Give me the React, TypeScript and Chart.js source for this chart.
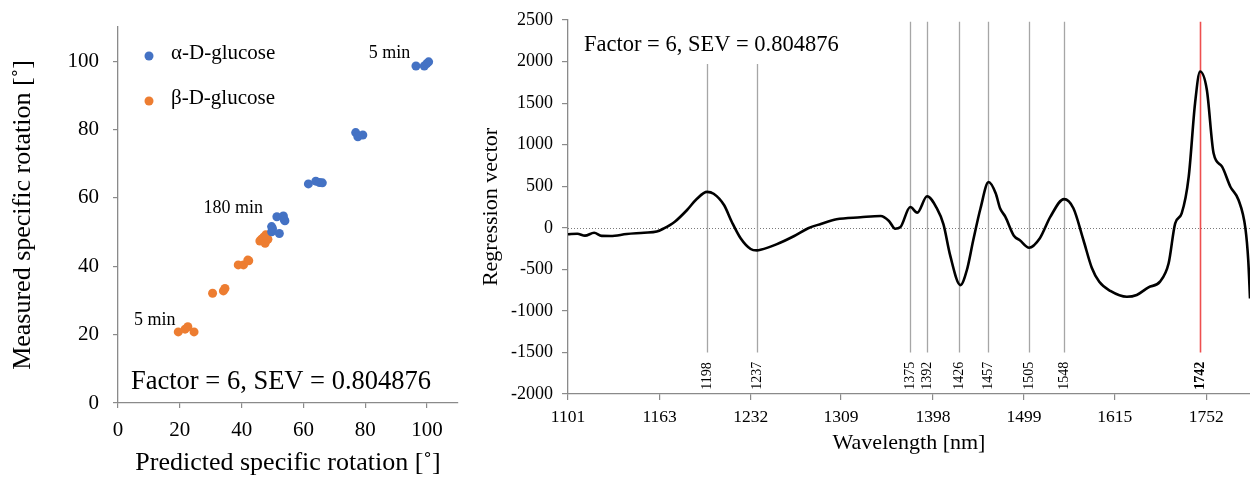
import React, { useEffect, useRef } from "react";
import { Chart, registerables } from "chart.js";

Chart.register(...registerables);

const FONT = "'Liberation Serif', 'Times New Roman', Times, serif";
const AXIS = "#8a8a8a";

// ---------- Left panel: predicted vs measured specific rotation ----------
const alphaPredicted = [96.4, 99.1, 99.9, 100.5, 76.9, 77.6, 79.2, 61.6, 64.0, 65.2, 66.1, 51.4, 53.5, 54.0, 49.7, 49.7, 52.2, 53.8, 50.0];
const alphaMeasured = [98.6, 98.6, 99.3, 99.8, 79.1, 77.9, 78.4, 64.1, 64.9, 64.5, 64.4, 54.5, 54.7, 53.3, 51.6, 50.1, 49.6, 53.6, 51.0];
const betaPredicted = [19.5, 21.7, 22.6, 24.6, 30.6, 34.1, 34.6, 38.9, 40.6, 42.0, 42.3, 45.9, 46.4, 47.0, 47.1, 47.6, 48.1, 48.5, 47.8];
const betaMeasured = [20.8, 21.6, 22.3, 20.8, 32.1, 32.8, 33.5, 40.4, 40.4, 41.8, 41.6, 47.4, 47.9, 47.7, 48.5, 46.7, 48.6, 47.9, 49.2];
const seriesLabels = ["α-D-glucose", "β-D-glucose"];
const seriesColors = ["#4472C4", "#ED7D31"];
const leftTicks = [0, 20, 40, 60, 80, 100];
const timeNotes = [
  { text: "5 min", x: 81.1, y: 100.8 },
  { text: "180 min", x: 27.7, y: 55.6 },
  { text: "5 min", x: 5.2, y: 22.7 },
];
const statText = "Factor = 6, SEV = 0.804876";

// ---------- Right panel: regression vector ----------
const wavelengthNm = [
  1101, 1107, 1112, 1118, 1123, 1129, 1140, 1152, 1161, 1166, 1174, 1183, 1190, 1198, 1203, 1211, 1217, 1224,
  1232, 1237, 1240, 1253, 1268, 1280, 1291, 1305, 1327, 1346, 1354, 1360, 1365, 1375, 1382, 1392, 1402, 1409,
  1416, 1427, 1434, 1441, 1449, 1458, 1466, 1471, 1477, 1487, 1494, 1505, 1518, 1531, 1548, 1560, 1573, 1584,
  1594, 1609, 1632, 1646, 1663, 1680, 1693, 1703, 1713, 1724, 1734, 1742, 1753, 1764, 1778, 1792, 1806, 1818,
  1823, 1826,
];
const regressionVector = [
  -78, -72, -95, -60, -97, -99, -75, -60, -45, -8, 73, 214, 343, 432, 410, 274, 73, -126,
  -255, -272, -265, -200, -99, -6, 46, 102, 126, 142, 82, -11, 6, 250, 182, 380, 235, 40,
  -330, -690, -508, -147, 235, 550, 415, 235, 134, -95, -150, -240, -126, 134, 345, 235, -147, -480,
  -650, -760, -830, -808, -716, -648, -427, 54, 174, 615, 1498, 1880, 1658, 896, 735, 494, 334, -10,
  -400, -850,
];
const xTickLabelsNm = [1101, 1163, 1232, 1309, 1398, 1499, 1615, 1752];
const xEndNm = 1826;
const markerNm = [1198, 1237, 1375, 1392, 1426, 1457, 1505, 1548, 1742];
const highlightNm = 1742;
const shortMarkerNm = [1198, 1237];

const leftOverlay = {
  id: "leftOverlay",
  afterDraw(chart: any) {
    const { ctx, chartArea, scales } = chart;
    const xs = scales.x;
    const ys = scales.y;
    ctx.save();
    // legend
    chart.data.datasets.forEach((ds: any, i: number) => {
      const cy = chartArea.top + 29 + i * 45;
      ctx.fillStyle = ds.backgroundColor;
      ctx.beginPath();
      ctx.arc(chartArea.left + 31, cy, 4.5, 0, Math.PI * 2);
      ctx.fill();
      ctx.fillStyle = "#000";
      ctx.font = `21px ${FONT}`;
      ctx.textAlign = "left";
      ctx.textBaseline = "alphabetic";
      ctx.fillText(ds.label, chartArea.left + 53, cy + 2.5);
    });
    // time notes
    ctx.font = `18px ${FONT}`;
    timeNotes.forEach((n) => {
      ctx.fillText(n.text, xs.getPixelForValue(n.x), ys.getPixelForValue(n.y));
    });
    // stats
    ctx.font = `26.5px ${FONT}`;
    ctx.fillText(statText, chartArea.left + 13, chartArea.bottom - 14);
    ctx.restore();
  },
};

const rightOverlay = {
  id: "rightOverlay",
  beforeDatasetsDraw(chart: any) {
    const { ctx, chartArea, scales } = chart;
    const xs = scales.x;
    const ys = scales.y;
    ctx.save();
    const y0 = Math.round(ys.getPixelForValue(0)) + 0.5;
    ctx.strokeStyle = "#7a7a7a";
    ctx.lineWidth = 1;
    ctx.setLineDash([1, 2]);
    ctx.beginPath();
    ctx.moveTo(chartArea.left, y0);
    ctx.lineTo(chartArea.right, y0);
    ctx.stroke();
    ctx.setLineDash([]);
    markerNm.forEach((nm) => {
      const px = Math.round(xs.getPixelForValue(1e7 / nm)) + 0.5;
      const hi = nm === highlightNm;
      const top = ys.getPixelForValue(shortMarkerNm.includes(nm) ? 1970 : 2480);
      const bottom = ys.getPixelForValue(-1500);
      ctx.strokeStyle = hi ? "#EE4F4F" : "#A6A6A6";
      ctx.lineWidth = hi ? 1.6 : 1.3;
      ctx.beginPath();
      ctx.moveTo(px, top);
      ctx.lineTo(px, bottom);
      ctx.stroke();
      ctx.save();
      ctx.translate(px, ys.getPixelForValue(-1950));
      ctx.rotate(-Math.PI / 2);
      ctx.fillStyle = "#000";
      ctx.font = `${hi ? "bold " : ""}14px ${FONT}`;
      ctx.textAlign = "left";
      ctx.textBaseline = "middle";
      ctx.fillText(String(nm), 0, 0);
      ctx.restore();
    });
    ctx.fillStyle = "#000";
    ctx.font = `22.5px ${FONT}`;
    ctx.textAlign = "left";
    ctx.textBaseline = "alphabetic";
    ctx.fillText(statText, chartArea.left + 16, chartArea.top + 30.5);
    ctx.restore();
  },
};

export default function App() {
  const leftRef = useRef<HTMLCanvasElement>(null);
  const rightRef = useRef<HTMLCanvasElement>(null);

  useEffect(() => {
    const tickFont = (size: number) => ({ family: FONT, size });
    const plain = (v: any) => String(v);
    const left = new Chart(leftRef.current as HTMLCanvasElement, {
      type: "scatter",
      data: {
        datasets: [
          {
            label: seriesLabels[0],
            data: alphaPredicted.map((x, i) => ({ x, y: alphaMeasured[i] })),
            backgroundColor: seriesColors[0],
            borderWidth: 0,
            pointRadius: 4.5,
          },
          {
            label: seriesLabels[1],
            data: betaPredicted.map((x, i) => ({ x, y: betaMeasured[i] })),
            backgroundColor: seriesColors[1],
            borderWidth: 0,
            pointRadius: 4.5,
          },
        ],
      },
      options: {
        animation: false,
        responsive: false,
        events: [],
        layout: { padding: { left: 0, right: 12, top: 27, bottom: 0 } },
        plugins: { legend: { display: false }, tooltip: { enabled: false } },
        scales: {
          x: {
            type: "linear",
            min: 0,
            max: 110,
            afterBuildTicks: (s: any) => {
              s.ticks = leftTicks.map((v) => ({ value: v }));
            },
            ticks: { color: "#000", font: tickFont(21), padding: 10, maxRotation: 0, callback: plain },
            grid: { drawOnChartArea: false, drawTicks: true, tickLength: 5, color: AXIS, lineWidth: 1.2 },
            border: { color: AXIS, width: 1.3 },
            title: {
              display: true,
              text: "Predicted specific rotation [˚]",
              color: "#000",
              font: { family: FONT, size: 26 },
              padding: { top: 0, bottom: 0 },
            },
            afterFit: (s: any) => {
              s.height = 76;
            },
          },
          y: {
            type: "linear",
            min: 0,
            max: 110,
            afterBuildTicks: (s: any) => {
              s.ticks = leftTicks.map((v) => ({ value: v }));
            },
            ticks: { color: "#000", font: tickFont(21), padding: 14, callback: plain },
            grid: { drawOnChartArea: false, drawTicks: true, tickLength: 5, color: AXIS, lineWidth: 1.2 },
            border: { color: AXIS, width: 1.3 },
            title: {
              display: true,
              text: "Measured specific rotation [˚]",
              color: "#000",
              font: { family: FONT, size: 26 },
              padding: { top: 7.5, bottom: 0 },
            },
            afterFit: (s: any) => {
              s.width = 118;
            },
          },
        },
      },
      plugins: [leftOverlay],
    } as any);

    const right = new Chart(rightRef.current as HTMLCanvasElement, {
      type: "line",
      data: {
        datasets: [
          {
            data: wavelengthNm.map((w, i) => ({ x: 1e7 / w, y: regressionVector[i] })),
            borderColor: "#000",
            borderWidth: 2.6,
            pointRadius: 0,
            cubicInterpolationMode: "monotone",
            fill: false,
          },
        ],
      },
      options: {
        animation: false,
        responsive: false,
        events: [],
        layout: { padding: { left: 0, right: 0, top: 20, bottom: 0 } },
        plugins: { legend: { display: false }, tooltip: { enabled: false } },
        scales: {
          x: {
            type: "linear",
            reverse: true,
            bounds: "data",
            min: 1e7 / xEndNm,
            max: 1e7 / xTickLabelsNm[0],
            afterBuildTicks: (s: any) => {
              s.ticks = xTickLabelsNm.map((l) => ({ value: 1e7 / l }));
            },
            ticks: {
              color: "#000",
              font: tickFont(17.5),
              padding: 7,
              autoSkip: false,
              maxRotation: 0,
              callback: (v: any) => String(Math.round(1e7 / Number(v))),
            },
            grid: { drawOnChartArea: false, drawTicks: true, tickLength: 6, color: AXIS, lineWidth: 1.2 },
            border: { color: AXIS, width: 1.3 },
            title: {
              display: true,
              text: "Wavelength [nm]",
              color: "#000",
              font: { family: FONT, size: 22 },
              padding: { top: 0, bottom: 23 },
            },
            afterFit: (s: any) => {
              s.height = 85;
            },
          },
          y: {
            type: "linear",
            min: -2000,
            max: 2500,
            ticks: { color: "#000", font: tickFont(18), padding: 9, stepSize: 500, callback: plain },
            grid: { drawOnChartArea: false, drawTicks: true, tickLength: 6, color: AXIS, lineWidth: 1.2 },
            border: { color: AXIS, width: 1.3 },
            title: {
              display: true,
              text: "Regression vector",
              color: "#000",
              font: { family: FONT, size: 22 },
              padding: { top: 8.5, bottom: 0 },
            },
            afterFit: (s: any) => {
              s.width = 98;
            },
          },
        },
      },
      plugins: [rightOverlay],
    } as any);

    return () => {
      left.destroy();
      right.destroy();
    };
  }, []);

  return (
    <div
      style={{
        position: "absolute",
        left: 0,
        top: 0,
        width: 1250,
        height: 479,
        overflow: "hidden",
        background: "#fff",
      }}
    >
      <canvas
        ref={leftRef}
        width={470}
        height={479}
        style={{ position: "absolute", left: 0, top: 0, width: 470, height: 479 }}
      />
      <canvas
        ref={rightRef}
        width={780}
        height={479}
        style={{ position: "absolute", left: 470, top: 0, width: 780, height: 479 }}
      />
    </div>
  );
}
